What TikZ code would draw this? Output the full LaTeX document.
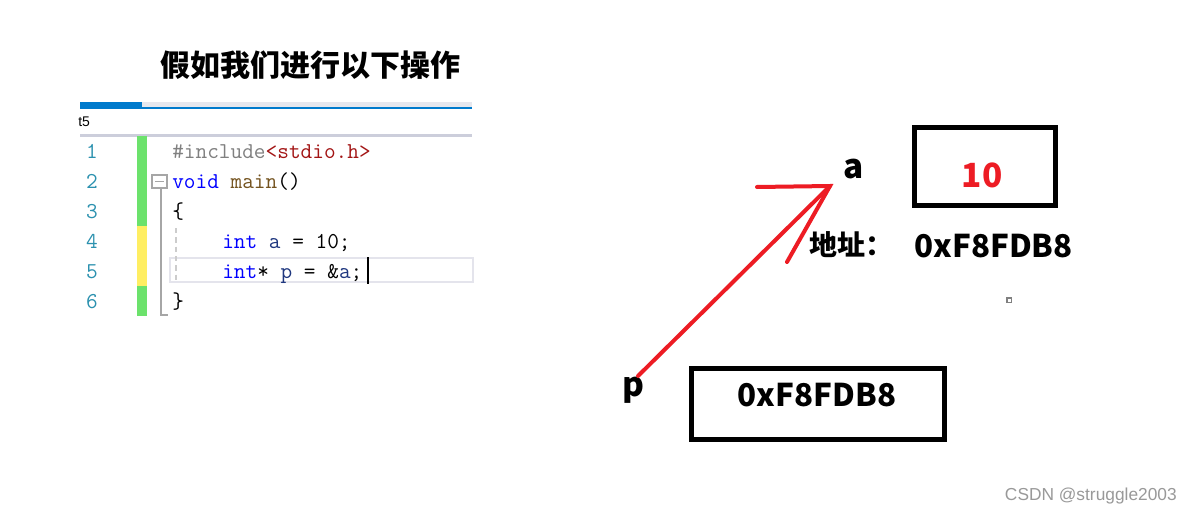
\documentclass[tikz,border=0pt]{standalone}
\usepackage{fontspec}
\newfontfamily\cjk{Noto Sans CJK SC}
\newfontfamily\wmfont{Liberation Sans}
\definecolor{vsblue}{RGB}{0,122,204}
\definecolor{vsband}{RGB}{230,231,237}
\definecolor{vsrule}{RGB}{204,206,219}
\definecolor{vsteal}{RGB}{43,145,175}
\definecolor{vsgreen}{RGB}{108,226,108}
\definecolor{vsyellow}{RGB}{255,238,98}
\definecolor{vsgray}{RGB}{128,128,128}
\definecolor{vsstr}{RGB}{163,21,21}
\definecolor{vskey}{RGB}{0,0,255}
\definecolor{vsfunc}{RGB}{116,83,31}
\definecolor{vsvar}{RGB}{31,55,127}
\definecolor{vsline}{RGB}{228,228,236}
\definecolor{ptrred}{RGB}{237,28,36}
\usetikzlibrary{positioning}

\begin{document}
\begin{tikzpicture}[x=0.75pt, y=-0.75pt,
    codetxt/.style={anchor=base west, inner sep=0pt,
                    font=\ttfamily\fontsize{17}{17}\selectfont},
    lnum/.style={anchor=base, inner sep=0pt, text=vsteal,
                 font=\ttfamily\fontsize{17}{17}\selectfont},
    memlbl/.style={inner sep=0pt, font=\cjk\bfseries\fontsize{25}{25}\selectfont},
    memval/.style={inner sep=0pt, font=\cjk\bfseries\fontsize{23.5}{23.5}\selectfont},
    membox/.style={rectangle, draw, line width=3.6pt, inner sep=0pt}
  ]
    \useasboundingbox[fill=white] (0,0) rectangle (1192,514);

    % Title
    \node[inner sep=0pt, font=\cjk\bfseries\fontsize{22.5}{22.5}\selectfont]
         (title) at (310,65) {假如我们进行以下操作};

    % Editor tab strip
    \fill[vsband] (142,101.7) rectangle (472,106.7);
    \fill[vsblue] (80,101.7) rectangle (142,106.7);
    \fill[vsblue] (80,106.7) rectangle (472,109);
    \node[anchor=west, inner sep=0pt, font=\wmfont\fontsize{10.5}{10.5}\selectfont]
         (tabname) at (78,122) {t5};
    \fill[vsrule] (80,134.3) rectangle (472,136.7);

    % Change bar
    \fill[vsgreen]  (137.3,136) rectangle (146.7,226);
    \fill[vsyellow] (137.3,226) rectangle (146.7,286);
    \fill[vsgreen]  (137.3,286) rectangle (146.7,316);

    % Current line highlight, outline and guide
    \draw[vsline, line width=1.5pt] (170,258) rectangle (473,282);
    \draw[gray!70, line width=1pt] (152,175) rectangle (167,188);
    \draw[gray!70, line width=1pt] (155,181.5) -- (164,181.5);
    \draw[gray!70, line width=1pt] (161,188) -- (161,315) -- (168,315);
    \draw[gray!40, line width=1pt, dash pattern=on 4pt off 3pt] (176,228) -- (176,280);

    % Line numbers
    \foreach \i in {1,...,6}
      \node[lnum] (ln\i) at (92,{128+30*\i}) {\i};

    % Code
    \node[codetxt] (code1) at (172,158)
         {\textcolor{vsgray}{\#include}\textcolor{vsstr}{<stdio.h>}};
    \node[codetxt] (code2) at (172,188)
         {\textcolor{vskey}{void} \textcolor{vsfunc}{main}()};
    \node[codetxt] (code3) at (172,218) {\{};
    \node[codetxt] (code4) at (222,248)
         {\textcolor{vskey}{int} \textcolor{vsvar}{a} = 10;};
    \node[codetxt] (code5) at (222,278)
         {\textcolor{vskey}{int}* \textcolor{vsvar}{p} = \&\textcolor{vsvar}{a};};
    \node[codetxt] (code6) at (172,308) {\}};
    \draw[line width=1.5pt] (368,257) -- (368,284);

    % Variable a
    \node[membox, minimum width=105.75pt, minimum height=58.5pt] (boxa) at (985,166.5) {};
    \node[memlbl, text=ptrred] (vala) at (982,175) {10};
    \node[memlbl, anchor=base] (namea) at (854,178) {a};
    \node[memlbl, anchor=west, font=\cjk\bfseries\fontsize{21}{21}\selectfont]
         (addrlbl) at (809,245) {地址：};
    \node[memval, anchor=west] (addrval) at (914,246) {0xF8FDB8};
    \draw[gray, line width=1.1pt] (1007,298) rectangle (1011.5,302.5);

    % Pointer p
    \node[membox, minimum width=189.75pt, minimum height=53.25pt] (boxp) at (818,404) {};
    \node[memval] (valp) at (817,395) {0xF8FDB8};
    \node[memlbl, anchor=base west] (namep) at (622,396) {p};

    % Arrow p -> a
    \coordinate (tail) at (638,376);
    \coordinate (tip) at (830,186);
    \coordinate (barbL) at (757,187);
    \coordinate (barbD) at (787,262);
    \draw[ptrred, line width=3pt, line cap=round, line join=miter] (tail) -- (tip);
    \draw[ptrred, line width=3pt, line cap=round, line join=miter] (barbL) -- (tip) -- (barbD);

    % Watermark
    \node[anchor=east, inner sep=0pt, text=gray!80,
          font=\wmfont\fontsize{13}{13}\selectfont] (mark) at (1177,496) {CSDN @struggle2003};
\end{tikzpicture}
\end{document}
